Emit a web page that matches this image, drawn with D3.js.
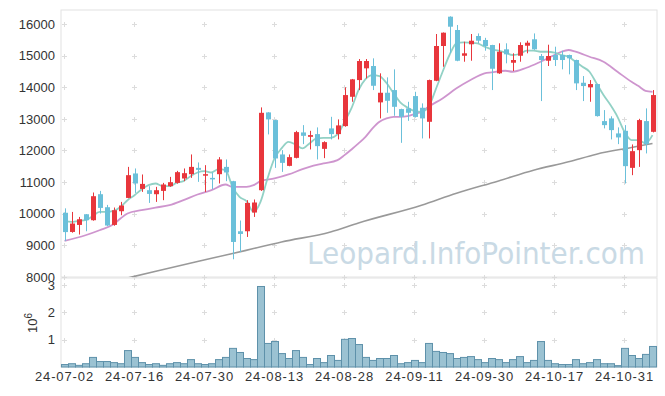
<!DOCTYPE html>
<html lang="en">
<head>
<meta charset="UTF-8"/>
<title>Candlestick chart</title>
<script src="https://d3js.org/d3.v7.min.js"></script>
<style>
    body { margin: 0; background: #fff; }
    text { font-family: "Liberation Sans", Arial, sans-serif; }
</style>
</head>
<body>
<script>
    // Trading days (24-07-02 .. 24-11-06)
    var dates = ["24-07-02","24-07-03","24-07-04","24-07-05","24-07-08","24-07-09","24-07-10","24-07-11","24-07-12","24-07-15",
                 "24-07-16","24-07-17","24-07-18","24-07-19","24-07-22","24-07-23","24-07-24","24-07-25","24-07-26","24-07-29",
                 "24-07-30","24-07-31","24-08-01","24-08-02","24-08-05","24-08-06","24-08-07","24-08-08","24-08-09","24-08-12",
                 "24-08-13","24-08-14","24-08-16","24-08-19","24-08-20","24-08-21","24-08-22","24-08-23","24-08-26","24-08-27",
                 "24-08-28","24-08-29","24-08-30","24-09-02","24-09-03","24-09-04","24-09-05","24-09-06","24-09-09","24-09-10",
                 "24-09-11","24-09-12","24-09-13","24-09-19","24-09-20","24-09-23","24-09-24","24-09-25","24-09-26","24-09-27",
                 "24-09-30","24-10-02","24-10-04","24-10-07","24-10-08","24-10-10","24-10-11","24-10-14","24-10-15","24-10-16",
                 "24-10-17","24-10-18","24-10-21","24-10-22","24-10-23","24-10-24","24-10-25","24-10-28","24-10-29","24-10-30",
                 "24-10-31","24-11-01","24-11-04","24-11-05","24-11-06"];

    var open  = [10030, 9424, 9646, 9984, 9795,10617,10206, 9646,10079,10500,
                 11273,10785,10744,10617,10722,10871,10975,11114,11250,11450,
                 11228,11133,11250,11481,11029, 9446, 9446,10038,10744,13203,
                 12960,11874,11513,11766,12570,12431,12517,12051,12697,12517,
                 12770,13697,14225,14596,14669,13520,13824,13909,13308,13330,
                 13719,13350,12906,14203,15302,16229,15808,14994,15356,15618,
                 15492,15333,14438,15197,14773,14994,15311,15514,14985,14836,
                 15017,15017,15017,14859,14140,13995,14099,12928,13013,12539,
                 12621,11450,12010,12928,12589];
    var high  = [10170,10057, 9899, 9990,10671,10722,10279,10196,10374,11481,
                 11431,11241,10871,10849,10975,11165,11355,11431,11874,11621,
                 11535,11304,11789,11716,11040, 9785,10428,10450,13361,13210,
                 12970,12010,11874,12621,12801,12621,12729,12290,13064,12982,
                 13995,14260,14890,14890,14912,14438,14311,14564,13320,13539,
                 13855,13488,14240,15681,15730,16240,15966,15438,15681,15700,
                 15560,15340,15387,15387,15071,15419,15469,15700,15050,15343,
                 15280,15150,15030,14870,14352,14225,14110,13276,13080,12729,
                 12801,12190,13000,13330,13909];
    var low   = [ 9140, 9400, 9342, 9446, 9780,10007, 9605, 9620, 9953,10490,
                 10659,10690,10342,10374,10428,10850,10950,11029,11133,11007,
                 10690,10776,10956,11029, 8560, 8791, 9266, 9899,10720,12507,
                 11450,11323,11500,11750,12200,12032,11716,11757,12349,12349,
                 12750,13539,13909,14279,13909,13013,13191,13096,12241,12937,
                 13040,12380,12380,14190,14647,15071,14820,14805,14836,15385,
                 15153,13909,14420,14754,14510,14805,15071,15180,13561,14669,
                 14669,14564,14406,13909,13561,13539,13070,12697,12349,12200,
                 10956,11219,11481,11906,12570];
    var close = [ 9420, 9690, 9826, 9795,10554,10184, 9627,10111,10260,11219,
                 10956,10943,10627,10744,10924,10997,11314,11282,11481,11387,
                 11250,11114,11716,11304, 9108, 9361,10342,10355,13190,12982,
                 11747,11608,11789,12580,12463,12485,12137,12263,12517,12792,
                 13751,14248,14827,14827,14045,13824,13570,13380,13064,13191,
                 13060,13013,14225,15302,15723,15912,14836,15071,15469,15469,
                 15302,14583,15121,15039,14859,15333,15406,15197,14859,14985,
                 14859,14859,14912,14121,14036,14099,13086,12801,12643,12412,
                 11504,11978,12960,12200,13751];
    var volume = [ 90000, 120000,  60000, 120000, 350000, 200000, 200000, 160000, 120000, 600000,
                  350000, 160000,  90000, 120000,  60000, 120000, 160000, 120000, 270000, 120000,
                   90000, 120000, 270000, 350000, 680000, 530000, 310000, 270000,2940000, 860000,
                  930000, 490000, 310000, 600000, 350000,  90000, 310000, 160000, 420000, 240000,
                 1010000,1040000, 820000, 350000, 240000, 310000, 310000, 420000, 120000, 160000,
                  240000, 160000, 860000, 570000, 530000, 490000, 310000, 350000, 380000, 270000,
                  160000, 310000, 270000, 160000, 270000, 380000, 160000, 240000, 930000, 240000,
                  120000,  90000,  90000, 270000, 120000, 160000, 270000, 120000, 120000,  50000,
                  680000, 420000, 310000, 460000, 750000];

    // Moving averages
    var ma5 = [ 9772, 9741, 9772, 9795, 9921,10057,10057,10089,10215,10428,
               10586,10766,10902,10956,10871,10871,10975,11029,11187,11304,
               11345,11304,11409,11377,10849,10532,10396,10057,10374,11114,
               11747,12064,12273,12190,12064,12222,12380,12399,12399,12507,
               12906,13339,13909,14257,14384,14352,14131,13814,13513,13355,
               13244,13222,13371,13909,14479,15017,15387,15419,15406,15387,
               15280,15197,15153,15090,15017,15049,15153,15153,15121,15121,
               15090,15017,14963,14805,14647,14488,14121,13751,13434,13064,
               12589,12327,12327,12222,12485];
    var ma20 = [[0, 9139],[3, 9320],[5, 9478],[7, 9668],[8, 9848],[9,10007],[11,10111],[13,10196],
                [15,10269],[17,10428],[19,10608],[21,10744],[23,10924],[24,10849],[26,10849],[27,10902],
                [28,11029],[30,11114],[32,11241],[34,11409],[35,11481],[37,11589],[39,11694],[40,11852],
                [41,12032],[42,12222],[43,12431],[44,12697],[45,12906],[46,13013],[47,13064],[48,13064],
                [49,13086],[50,13150],[51,13222],[52,13380],[54,13646],[56,13963],[58,14225],[60,14438],
                [61,14469],[63,14520],[64,14488],[66,14615],[68,14805],[70,15017],[71,15121],[72,15175],
                [73,15121],[75,14963],[77,14805],[79,14488],[81,14172],[82,14036],[83,13887],[84,13855]];
    var ma120 = [[0, 7500],[10, 8020],[19, 8490],[24, 8740],[27, 8899],[31, 9108],[38, 9424],[42, 9709],
                 [51,10269],[56,10649],[62,11038],[67,11377],[72,11640],[76,11883],[81,12095],[84,12222]];

    var priceTicks = [8000, 9000, 10000, 11000, 12000, 13000, 14000, 15000, 16000];
    var volTicks = [1, 2, 3];

    var W = 665, H = 396;
    var left = 61, right = 657;
    var pTop = 10, pBottom = 277, vTop = 278, vBottom = 367;

    var svg = d3.select("body").append("svg")
                .attr("width", W)
                .attr("height", H);

    var x = d3.scaleBand()
              .domain(d3.range(dates.length))
              .range([left, left + dates.length * 7])
              .paddingInner(0);
    var cx = function(i) { return x(i) + x.bandwidth() / 2; };

    var y = d3.scaleLinear().domain([8000, 16440]).range([pBottom, pTop]);
    var yv = d3.scaleLinear().domain([0, 3.25e6]).range([vBottom, vTop]);

    var grey = "#e2e2e2";

    // panel frames
    svg.append("rect").attr("x", left).attr("y", pTop).attr("width", right - left).attr("height", pBottom - pTop)
       .attr("fill", "none").attr("stroke", grey);
    svg.append("rect").attr("x", left).attr("y", vTop).attr("width", right - left).attr("height", vBottom - vTop)
       .attr("fill", "none").attr("stroke", grey);

    // "+" grid markers
    var xTickIdx = d3.range(0, dates.length, 10);
    function crosses(yPos) {
        xTickIdx.forEach(function(i) {
            yPos.forEach(function(yy) {
                svg.append("path")
                   .attr("d", "M" + (cx(i) - 2.5) + "," + yy + "h5M" + cx(i) + "," + (yy - 2.5) + "v5")
                   .attr("stroke", "#dcdcdc").attr("stroke-width", 1);
            });
        });
    }
    crosses(priceTicks.map(function(t) { return Math.round(y(t)) + 0.5; }));
    crosses(volTicks.map(function(t) { return Math.round(yv(t * 1e6)) + 0.5; }));

    // watermark
    svg.append("text")
       .attr("x", 307).attr("y", 264)
       .attr("textLength", 338)
       .attr("lengthAdjust", "spacingAndGlyphs")
       .attr("fill", "#c9dae5")
       .style("font-family", "'DejaVu Sans', sans-serif")
       .style("font-size", "31px")
       .text("Leopard.InfoPointer.com");

    // y axis labels
    svg.selectAll(".plabel")
       .data(priceTicks)
       .enter().append("text")
       .attr("x", 55).attr("y", function(d) { return y(d); })
       .attr("dy", "0.36em")
       .attr("text-anchor", "end")
       .attr("fill", "#333")
       .style("font-size", "13px")
       .text(function(d) { return d; });

    svg.selectAll(".vlabel")
       .data(volTicks)
       .enter().append("text")
       .attr("x", 55).attr("y", function(d) { return yv(d * 1e6); })
       .attr("dy", "0.36em")
       .attr("text-anchor", "end")
       .attr("fill", "#333")
       .style("font-size", "13px")
       .text(function(d) { return d; });

    var unit = svg.append("text")
       .attr("transform", "translate(37,333) rotate(-90)")
       .attr("fill", "#333")
       .style("font-size", "13px");
    unit.append("tspan").text("10");
    unit.append("tspan").attr("dy", "-0.5em").style("font-size", "10px").text("6");

    // x labels
    svg.selectAll(".xlabel")
       .data(xTickIdx)
       .enter().append("text")
       .attr("x", function(i) { return cx(i); })
       .attr("y", 381)
       .attr("text-anchor", "middle")
       .attr("fill", "#333")
       .style("font-size", "13px")
       .style("letter-spacing", "0.9px")
       .text(function(i) { return dates[i]; });

    // clip for price panel
    svg.append("clipPath").attr("id", "pclip")
       .append("rect").attr("x", left).attr("y", pTop).attr("width", right - left).attr("height", pBottom - pTop);
    var price = svg.append("g").attr("clip-path", "url(#pclip)");

    // moving averages
    var line = d3.line().curve(d3.curveMonotoneX)
                 .x(function(d) { return cx(d[0]); })
                 .y(function(d) { return y(d[1]); });
    price.append("path").datum(ma120).attr("d", line)
         .attr("fill", "none").attr("stroke", "#8e8e8e").attr("stroke-width", 1.6).attr("opacity", 0.9);
    price.append("path").datum(ma20).attr("d", line)
         .attr("fill", "none").attr("stroke", "#c98ac9").attr("stroke-width", 1.8).attr("opacity", 0.9);
    price.append("path").datum(ma5.map(function(v, i) { return [i, v]; })).attr("d", line)
         .attr("fill", "none").attr("stroke", "#8ccfc2").attr("stroke-width", 1.8).attr("opacity", 0.95);

    // candles
    var idx = d3.range(dates.length);
    var colour = function(i) { return close[i] >= open[i] ? "#e8363c" : "#6bc0da"; };

    price.selectAll(".wick")
         .data(idx)
         .enter().append("line")
         .attr("x1", function(i) { return Math.round(cx(i)) + 0.5; })
         .attr("x2", function(i) { return Math.round(cx(i)) + 0.5; })
         .attr("y1", function(i) { return y(high[i]); })
         .attr("y2", function(i) { return y(low[i]); })
         .attr("stroke", colour)
         .attr("stroke-width", 1);

    price.selectAll(".body")
         .data(idx)
         .enter().append("rect")
         .attr("x", function(i) { return Math.round(cx(i)) - 2; })
         .attr("width", 5)
         .attr("y", function(i) { return y(Math.max(open[i], close[i])); })
         .attr("height", function(i) { return Math.max(1.5, Math.abs(y(open[i]) - y(close[i]))); })
         .attr("fill", colour);

    // volume bars
    svg.selectAll(".vol")
       .data(idx)
       .enter().append("rect")
       .attr("x", function(i) { return x(i) + 0.5; })
       .attr("width", x.bandwidth())
       .attr("y", function(i) { return yv(volume[i]); })
       .attr("height", function(i) { return vBottom - yv(volume[i]); })
       .attr("fill", "#9bc2d2")
       .attr("stroke", "#5e91aa")
       .attr("stroke-width", 1);
</script>
</body>
</html>
